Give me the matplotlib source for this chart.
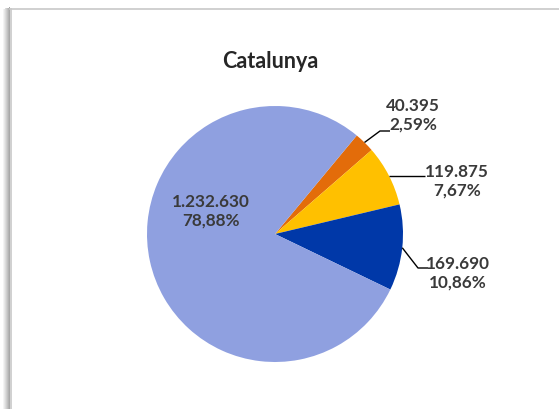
import matplotlib.pyplot as plt
from matplotlib.patches import Rectangle
from matplotlib.lines import Line2D
import numpy as np

# Datos
titulo = 'Catalunya'
valores = [40395, 119875, 169690, 1232630]
etiquetas_valor = ['40.395', '119.875', '169.690', '1.232.630']
porcentajes = ['2,59%', '7,67%', '10,86%', '78,88%']
colores = ['#E36C0A', '#FFC000', '#0038A8', '#8FA0E0']

W, H = 559, 409
fig = plt.figure(figsize=(W / 100, H / 100), dpi=100)
fig.patch.set_facecolor('white')

# marco del gráfico con sombra a la izquierda
for i, c in enumerate(['#f4f4f4', '#e8e8e8', '#dcdcdc', '#cfcfcf', '#c2c2c2', '#b4b4b4', '#a8a8a8']):
    fig.add_artist(Rectangle(((3 + i) / W, 0), 1 / W, 1 - (9 - i * 0.3) / H,
                             transform=fig.transFigure, color=c, lw=0, zorder=-2))
fig.add_artist(Line2D([10 / W, 1], [1 - 8.5 / H, 1 - 8.5 / H], transform=fig.transFigure,
                      color='#c8c8c8', lw=1.2, zorder=-1))
fig.add_artist(Line2D([10.5 / W, 10.5 / W], [0, 1 - 8.5 / H], transform=fig.transFigure,
                      color='#c8c8c8', lw=1.2, zorder=-1))

# pie: centro (275, 234), radio 128 px
cx, cy, r = 275, 234, 128
ax = fig.add_axes([(cx - r) / W, (H - cy - r) / H, 2 * r / W, 2 * r / H])
ax.patch.set_visible(False)
wedges, _ = ax.pie(valores, colors=colores, startangle=50.3, counterclock=False,
                   radius=1, wedgeprops=dict(linewidth=0))
ax.set_xlim(-1, 1)
ax.set_ylim(-1, 1)
ax.set_aspect('equal')
ax.axis('off')

fuente = ['Lato', 'DejaVu Sans']
gris = '#3a3a3a'

# posiciones de etiquetas (px) y codo de la línea guía
pos_etiq = [(413, 115), (457, 181), (458, 273), (211, 211)]
codos = [(380, 131, 390), (None, 176, 425), (418, 268, 428), None]

def px2d(x, y):
    return (x - cx) / r, (cy - y) / r

for w, val, pct, (tx, ty), codo in zip(wedges, etiquetas_valor, porcentajes, pos_etiq, codos):
    dx, dy = px2d(tx, ty)
    ax.text(dx, dy, val + '\n' + pct, ha='center', va='center', fontsize=12.3,
            fontweight='bold', color=gris, family=fuente, linespacing=1.22)
    if codo is None:
        continue
    ang = np.deg2rad((w.theta1 + w.theta2) / 2)
    x0, y0 = np.cos(ang), np.sin(ang)
    ex, ey, fx = codo
    ey_d = (cy - ey) / r
    ex_d = x0 if ex is None else (ex - cx) / r
    ax.plot([x0, ex_d, (fx - cx) / r], [y0, ey_d, ey_d], color='black', lw=1,
            clip_on=False, solid_capstyle='butt')

fig.text(270 / W, 1 - 61 / H, titulo, ha='center', va='center', fontsize=15.5,
         fontweight='bold', color='#262626', family=fuente)

fig.savefig('out.png', dpi=100)
